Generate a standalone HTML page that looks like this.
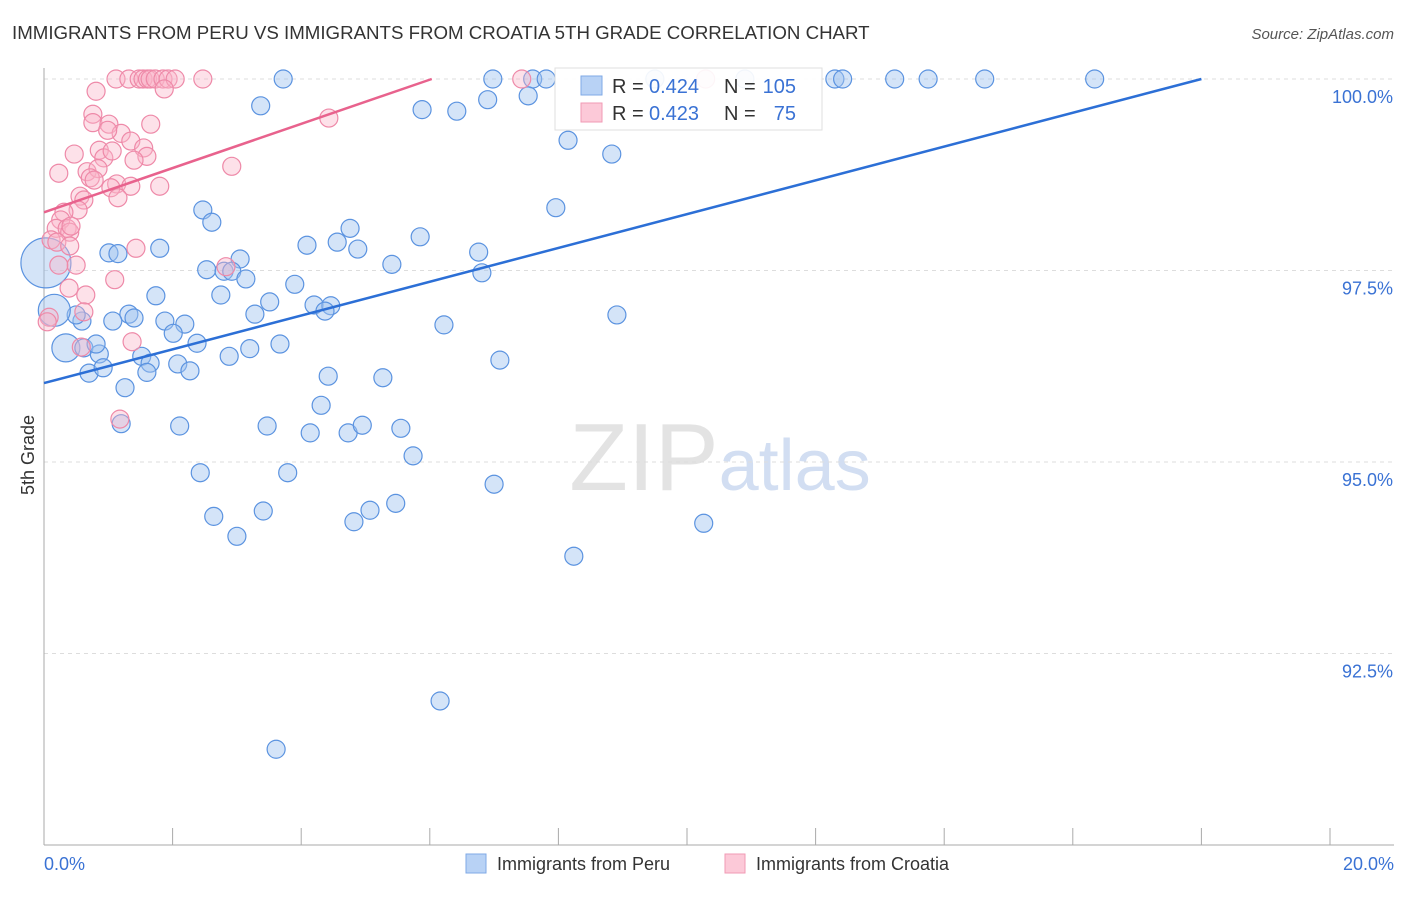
<!DOCTYPE html>
<html><head><meta charset="utf-8"><style>
body{margin:0;background:#fff;font-family:"Liberation Sans",sans-serif}
svg text{font-family:"Liberation Sans",sans-serif}
</style></head><body>
<svg id="c" width="1406" height="892" xmlns="http://www.w3.org/2000/svg">
<text x="12" y="39" font-size="18.7" fill="#333">IMMIGRANTS FROM PERU VS IMMIGRANTS FROM CROATIA 5TH GRADE CORRELATION CHART</text>
<text x="1394" y="39" font-size="15" fill="#555" text-anchor="end" font-style="italic">Source: ZipAtlas.com</text>
<text x="720" y="490" font-size="96" text-anchor="middle" fill="#ddd" font-family="Liberation Serif" opacity="0.8">ZIP<tspan fill="#c7d7ef" font-family="Liberation Sans" font-size="72">atlas</tspan></text>
<g id="grid"></g><g id="axes"></g><g id="pts"></g><g id="lines"></g>
<text transform="translate(34,455) rotate(-90)" font-size="18" fill="#333" text-anchor="middle">5th Grade</text>
<g>
<rect x="555" y="68" width="267" height="62" fill="#fff" stroke="#ddd" opacity="0.92"/>
<rect x="581" y="76" width="21" height="19" fill="#b8d2f5" stroke="#7fa9e6"/>
<rect x="581" y="103" width="21" height="19" fill="#fcc9d8" stroke="#f19ab4"/>
<text x="612" y="93" font-size="20" fill="#333">R =</text>
<text x="649" y="93" font-size="20" fill="#3a72d4">0.424</text>
<text x="724" y="93" font-size="20" fill="#333">N =</text>
<text x="796" y="93" font-size="20" fill="#3a72d4" text-anchor="end">105</text>
<text x="612" y="120" font-size="20" fill="#333">R =</text>
<text x="649" y="120" font-size="20" fill="#3a72d4">0.423</text>
<text x="724" y="120" font-size="20" fill="#333">N =</text>
<text x="796" y="120" font-size="20" fill="#3a72d4" text-anchor="end">75</text>
</g>
<g>
<rect x="466" y="854" width="20" height="19" fill="#b8d2f5" stroke="#7fa9e6"/>
<text x="497" y="870" font-size="18" fill="#333">Immigrants from Peru</text>
<rect x="725" y="854" width="20" height="19" fill="#fcc9d8" stroke="#f19ab4"/>
<text x="756" y="870" font-size="18" fill="#333">Immigrants from Croatia</text>
</g>
</svg>
<script>
const yTicks=[100,97.5,95,92.5];
const yTickLabels=["100.0%","97.5%","95.0%","92.5%"];
const xTickLabels=["0.0%","20.0%"];
const peruX=[3.72,6.98,7.60,7.81,9.50,10.90,12.30,12.42,13.23,13.75,14.63,16.34,3.37,5.88,6.42,6.90,7.53,8.15,8.83,7.96,2.47,2.61,4.76,5.85,4.09,4.56,4.88,1.80,1.01,1.15,3.05,5.41,6.76,6.81,2.53,2.80,2.92,3.14,3.90,1.74,2.75,3.51,4.20,4.46,4.37,3.28,8.91,1.32,1.40,1.07,1.88,2.19,0.59,0.50,6.22,0.16,2.01,2.38,3.67,3.20,2.88,1.52,1.65,2.08,2.27,1.60,0.34,0.62,0.86,0.81,0.70,0.92,1.26,4.42,5.27,7.09,4.31,1.20,2.11,3.47,4.14,4.73,4.95,5.55,5.74,2.43,3.79,7.00,2.64,3.41,4.82,5.07,5.47,3.00,8.24,10.26,6.16,3.61,0.03];
const peruY=[100,100,100,100,100,100,100,100,100,100,100,100,99.65,99.60,99.58,99.73,99.78,99.20,99.02,98.32,98.29,98.13,98.05,97.94,97.83,97.87,97.78,97.79,97.73,97.72,97.65,97.58,97.74,97.47,97.51,97.49,97.49,97.39,97.32,97.17,97.18,97.09,97.05,97.04,96.97,96.93,96.92,96.93,96.88,96.84,96.84,96.80,96.84,96.92,96.79,96.98,96.68,96.55,96.54,96.48,96.38,96.38,96.29,96.28,96.19,96.17,96.49,96.49,96.41,96.54,96.16,96.23,95.97,96.12,96.10,96.33,95.74,95.50,95.47,95.47,95.38,95.38,95.48,95.44,95.08,94.86,94.86,94.71,94.29,94.36,94.22,94.37,94.46,94.03,93.77,94.20,91.88,91.25,97.60];
const peruBig={55:16,66:14,98:25};
const croX=[1.12,1.32,1.48,1.54,1.61,1.65,1.73,1.85,1.93,2.04,2.47,7.43,10.29,0.81,1.87,0.76,0.76,1.01,1.66,4.43,1.20,1.35,0.99,1.55,1.60,0.47,0.86,0.93,1.40,1.06,2.92,0.23,0.67,0.84,0.72,0.78,1.13,1.04,1.80,1.35,1.15,0.56,0.62,0.53,0.31,0.26,0.19,0.36,0.40,0.42,0.11,0.20,0.40,1.43,0.50,0.23,1.10,0.39,0.65,2.83,0.62,0.08,0.05,1.37,0.58,1.18];
const croY=[100,100,100,100,100,100,100,100,100,100,100,100,100,99.84,99.87,99.54,99.43,99.41,99.41,99.49,99.29,99.19,99.33,99.10,98.99,99.02,99.07,98.97,98.94,99.06,98.86,98.77,98.79,98.83,98.71,98.68,98.63,98.58,98.60,98.60,98.45,98.47,98.42,98.29,98.26,98.16,98.05,98.05,98.00,98.08,97.90,97.87,97.82,97.79,97.57,97.57,97.38,97.27,97.18,97.55,96.96,96.89,96.83,96.57,96.50,95.56];
const peruTrend=[[0,96.03],[18,100]];
const croTrend=[[0,98.26],[6.03,100]];
const NS='http://www.w3.org/2000/svg';
const X=v=>44+v/20*1286, Y=v=>79+(100-v)/2.5*191.5;
function mk(t,a,p){const e=document.createElementNS(NS,t);for(const k in a)e.setAttribute(k,a[k]);p.appendChild(e);return e;}
const g=document.getElementById('grid'),ax=document.getElementById('axes'),pts=document.getElementById('pts'),ln=document.getElementById('lines');
yTicks.forEach((t,i)=>{
 const l=mk('line',{x1:44,x2:1394,y1:Y(t),y2:Y(t),stroke:'#ddd','stroke-dasharray':'4,4'},g);
 
 
 const tx=mk('text',{x:1393,y:Y(t)+24,'font-size':18,fill:'#3a72d4','text-anchor':'end'},ax);tx.textContent=yTickLabels[i];
 
 
});
const a1=mk('line',{x1:44,x2:44,y1:68,y2:845,stroke:'#aaa'},ax);


const a2=mk('line',{x1:44,x2:1394,y1:845,y2:845,stroke:'#aaa'},ax);


for(let i=0;i<=10;i++){const t=mk('line',{x1:X(i*2),x2:X(i*2),y1:828,y2:845,stroke:'#aaa'},ax);
 
 }
[[0,'start',44],[20,'end',1394]].forEach((d,i)=>{const t=mk('text',{x:d[2],y:870,'font-size':18,fill:'#3a72d4','text-anchor':d[1]},ax);t.textContent=xTickLabels[i];
 
 });
peruX.forEach((v,i)=>{const c=mk('circle',{cx:X(v),cy:Y(peruY[i]),r:peruBig[i]||9,fill:'rgba(160,195,240,0.45)',stroke:'#5b93e0','stroke-width':1.2},pts);
 
 });
croX.forEach((v,i)=>{const c=mk('circle',{cx:X(v),cy:Y(croY[i]),r:9,fill:'rgba(250,180,200,0.4)',stroke:'#ee89a8','stroke-width':1.2},pts);
 
 });
const l1=mk('line',{x1:X(peruTrend[0][0]),y1:Y(peruTrend[0][1]),x2:X(peruTrend[1][0]),y2:Y(peruTrend[1][1]),stroke:'#2c6fd6','stroke-width':2.5},ln);


const l2=mk('line',{x1:X(croTrend[0][0]),y1:Y(croTrend[0][1]),x2:X(croTrend[1][0]),y2:Y(croTrend[1][1]),stroke:'#e8628d','stroke-width':2.5},ln);


</script>
</body></html>
